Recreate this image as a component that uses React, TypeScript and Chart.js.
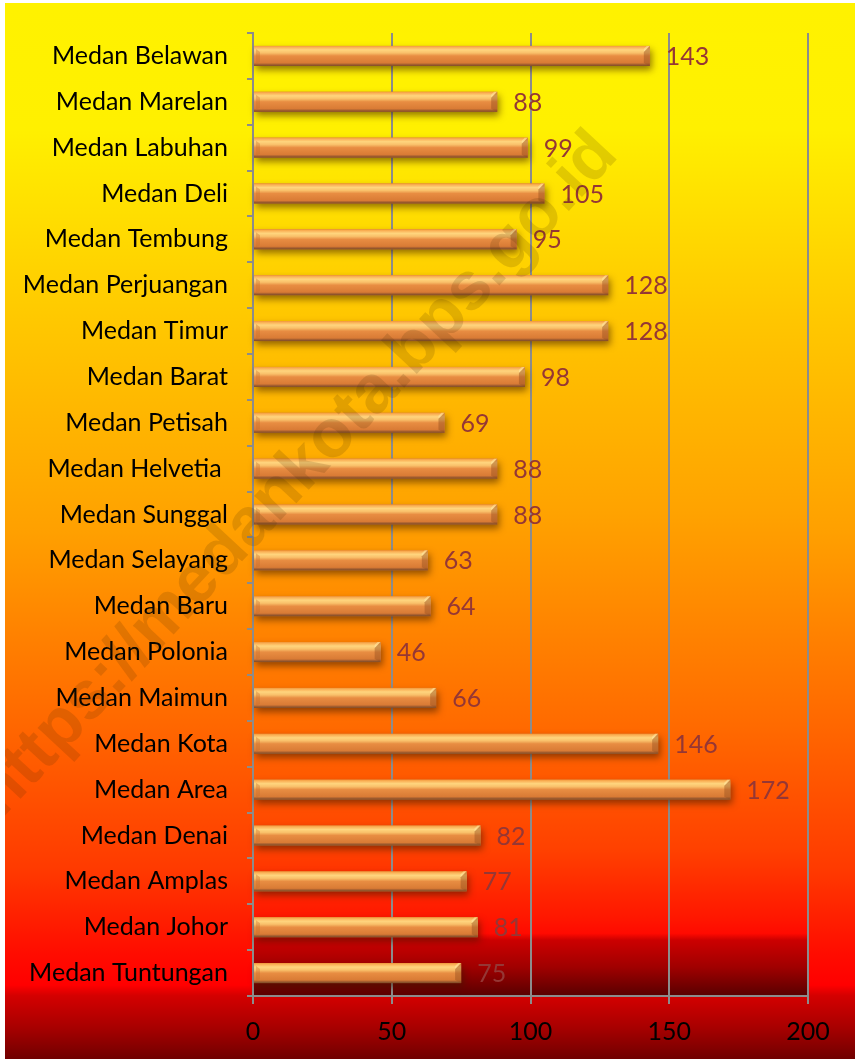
import React, { useEffect, useRef } from "react";
import { Chart, registerables } from "chart.js";

Chart.register(...registerables);

const categories = [
  "Medan Belawan",
  "Medan Marelan",
  "Medan Labuhan",
  "Medan Deli",
  "Medan Tembung",
  "Medan Perjuangan",
  "Medan Timur",
  "Medan Barat",
  "Medan Petisah",
  "Medan Helvetia ",
  "Medan Sunggal",
  "Medan Selayang",
  "Medan Baru",
  "Medan Polonia",
  "Medan Maimun",
  "Medan Kota",
  "Medan Area",
  "Medan Denai",
  "Medan Amplas",
  "Medan Johor",
  "Medan Tuntungan",
];

const values = [143, 88, 99, 105, 95, 128, 128, 98, 69, 88, 88, 63, 64, 46, 66, 146, 172, 82, 77, 81, 75];

const xTickValues = [0, 50, 100, 150, 200];

const watermarkText = "https://medankota.bps.go.id";

const FONT = "Lato, 'Open Sans', sans-serif";
const FONT_SIZE = 25;
const GRID = "#8c8c8c";
const VALUE_COLOR = "#953735";

const outerStops: [number, string][] = [
  [0, "#fff200"],
  [0.12, "#fff000"],
  [0.3, "#ffc800"],
  [0.5, "#ffa000"],
  [0.7, "#ff6200"],
  [0.82, "#ff3a00"],
  [0.9, "#ff0c00"],
  [0.93, "#ff0000"],
  [0.94, "#d40000"],
  [0.97, "#a80000"],
  [1, "#700000"],
];

const innerStops: [number, string][] = [
  [0, "#fff200"],
  [0.1, "#fff000"],
  [0.3, "#ffc500"],
  [0.5, "#ffa200"],
  [0.72, "#ff6a00"],
  [0.85, "#ff4000"],
  [0.92, "#ff1600"],
  [0.935, "#ff0a00"],
  [0.942, "#cc0000"],
  [0.97, "#a00000"],
  [1, "#580000"],
];

const barStops: [number, string][] = [
  [0, "#f39a3c"],
  [0.08, "#fbb45a"],
  [0.2, "#ffd57e"],
  [0.35, "#f9c06a"],
  [0.5, "#e88d42"],
  [0.85, "#d97b35"],
  [0.92, "#a86030"],
  [1, "#7a4a28"],
];

export default function App() {
  const ref = useRef<HTMLCanvasElement>(null);

  useEffect(() => {
    document.body.style.margin = "0";
    const canvas = ref.current!;

    const bgPlugin = {
      id: "bgFill",
      beforeDraw(chart: any) {
        const { ctx, width, height, chartArea: a } = chart;
        ctx.save();
        const g = ctx.createLinearGradient(0, 0, 0, height);
        outerStops.forEach(([o, c]) => g.addColorStop(o, c));
        ctx.fillStyle = g;
        ctx.fillRect(0, 0, width, height);
        const g2 = ctx.createLinearGradient(0, a.top, 0, a.bottom);
        innerStops.forEach(([o, c]) => g2.addColorStop(o, c));
        ctx.fillStyle = g2;
        ctx.fillRect(a.left, a.top, a.right - a.left, a.bottom - a.top);
        ctx.restore();
      },
    };

    const barPlugin = {
      id: "bars3d",
      afterDatasetsDraw(chart: any) {
        const ctx = chart.ctx as CanvasRenderingContext2D;
        const meta = chart.getDatasetMeta(0);
        meta.data.forEach((el: any, i: number) => {
          const p = el.getProps(["x", "y", "base", "height"], true);
          const x0 = Math.min(p.base, p.x);
          const x1 = Math.max(p.base, p.x);
          const y0 = p.y - p.height / 2;
          const y1 = p.y + p.height / 2;
          const w = x1 - x0;
          const h = y1 - y0;

          ctx.save();
          ctx.shadowColor = "rgba(60,25,0,0.55)";
          ctx.shadowBlur = 7;
          ctx.shadowOffsetX = 2;
          ctx.shadowOffsetY = 4;
          ctx.fillStyle = "#d97b35";
          ctx.fillRect(x0, y0, w, h);
          ctx.restore();

          ctx.save();
          const g = ctx.createLinearGradient(0, y0, 0, y1);
          barStops.forEach(([o, c]) => g.addColorStop(o, c));
          ctx.fillStyle = g;
          ctx.fillRect(x0, y0, w, h);

          const b = 6;
          ctx.fillStyle = "rgba(255,235,170,0.55)";
          ctx.beginPath();
          ctx.moveTo(x1, y0);
          ctx.lineTo(x1 - b, y0 + b);
          ctx.lineTo(x1 - b, y0 + 3);
          ctx.lineTo(x1 - 3, y0);
          ctx.closePath();
          ctx.fill();
          ctx.fillStyle = "rgba(150,80,30,0.45)";
          ctx.beginPath();
          ctx.moveTo(x1, y0);
          ctx.lineTo(x1, y1);
          ctx.lineTo(x1 - b, y1 - 3);
          ctx.lineTo(x1 - b, y0 + b);
          ctx.closePath();
          ctx.fill();
          ctx.fillStyle = "rgba(200,110,40,0.35)";
          ctx.beginPath();
          ctx.moveTo(x0 + 2, y0 + 3);
          ctx.lineTo(x0 + b, y0 + b);
          ctx.lineTo(x0 + b, y1 - 4);
          ctx.lineTo(x0 + 2, y1 - 2);
          ctx.closePath();
          ctx.fill();
          ctx.restore();

          ctx.save();
          ctx.fillStyle = VALUE_COLOR;
          ctx.font = `${FONT_SIZE}px ${FONT}`;
          ctx.textAlign = "left";
          ctx.textBaseline = "middle";
          ctx.fillText(String(values[i]), x1 + 16, p.y + 1);
          ctx.restore();
        });
      },
      afterDraw(chart: any) {
        const ctx = chart.ctx as CanvasRenderingContext2D;
        ctx.save();
        ctx.translate(292, 472);
        ctx.rotate((-47 * Math.PI) / 180);
        ctx.font = "bold 68px 'Liberation Sans', Arial, sans-serif";
        ctx.fillStyle = "rgba(70,45,0,0.16)";
        ctx.textAlign = "center";
        ctx.textBaseline = "middle";
        ctx.fillText(watermarkText, 0, 0);
        ctx.restore();
      },
    };

    const chart = new Chart(canvas, {
      type: "bar",
      data: {
        labels: categories,
        datasets: [
          {
            data: values,
            backgroundColor: "rgba(0,0,0,0)",
            borderWidth: 0,
            barThickness: 20,
          },
        ],
      },
      options: {
        indexAxis: "y",
        responsive: false,
        animation: false,
        layout: { padding: { top: 30, right: 47, left: 0, bottom: 0 } },
        plugins: {
          legend: { display: false },
          tooltip: { enabled: false },
        },
        scales: {
          x: {
            type: "linear",
            min: 0,
            max: 200,
            position: "bottom",
            afterBuildTicks: (s: any) => {
              s.ticks = xTickValues.map((v) => ({ value: v }));
            },
            afterFit: (s: any) => {
              s.height = 63;
              s.paddingLeft = 0;
              s.paddingRight = 0;
            },
            grid: { color: GRID, lineWidth: 2, drawTicks: true, tickLength: 8 },
            border: { display: true, color: GRID, width: 2 },
            ticks: {
              color: "#000",
              font: { family: FONT, size: FONT_SIZE },
              padding: 13,
              maxRotation: 0,
            },
          },
          y: {
            type: "category",
            offset: true,
            afterFit: (s: any) => {
              s.width = 248;
              s.paddingTop = 0;
              s.paddingBottom = 0;
            },
            grid: {
              display: true,
              offset: true,
              drawOnChartArea: false,
              drawTicks: true,
              tickLength: 6,
              color: GRID,
              lineWidth: 2,
            },
            border: { display: true, color: GRID, width: 2 },
            ticks: {
              color: "#000",
              font: { family: FONT, size: FONT_SIZE },
              padding: 19,
              autoSkip: false,
            },
          },
        },
      } as any,
      plugins: [bgPlugin, barPlugin],
    });

    return () => chart.destroy();
  }, []);

  return (
    <div style={{ padding: "3px 0 0 5px", background: "#fff" }}>
      <canvas ref={ref} width={850} height={1056} style={{ display: "block", width: 850, height: 1056 }} />
    </div>
  );
}
